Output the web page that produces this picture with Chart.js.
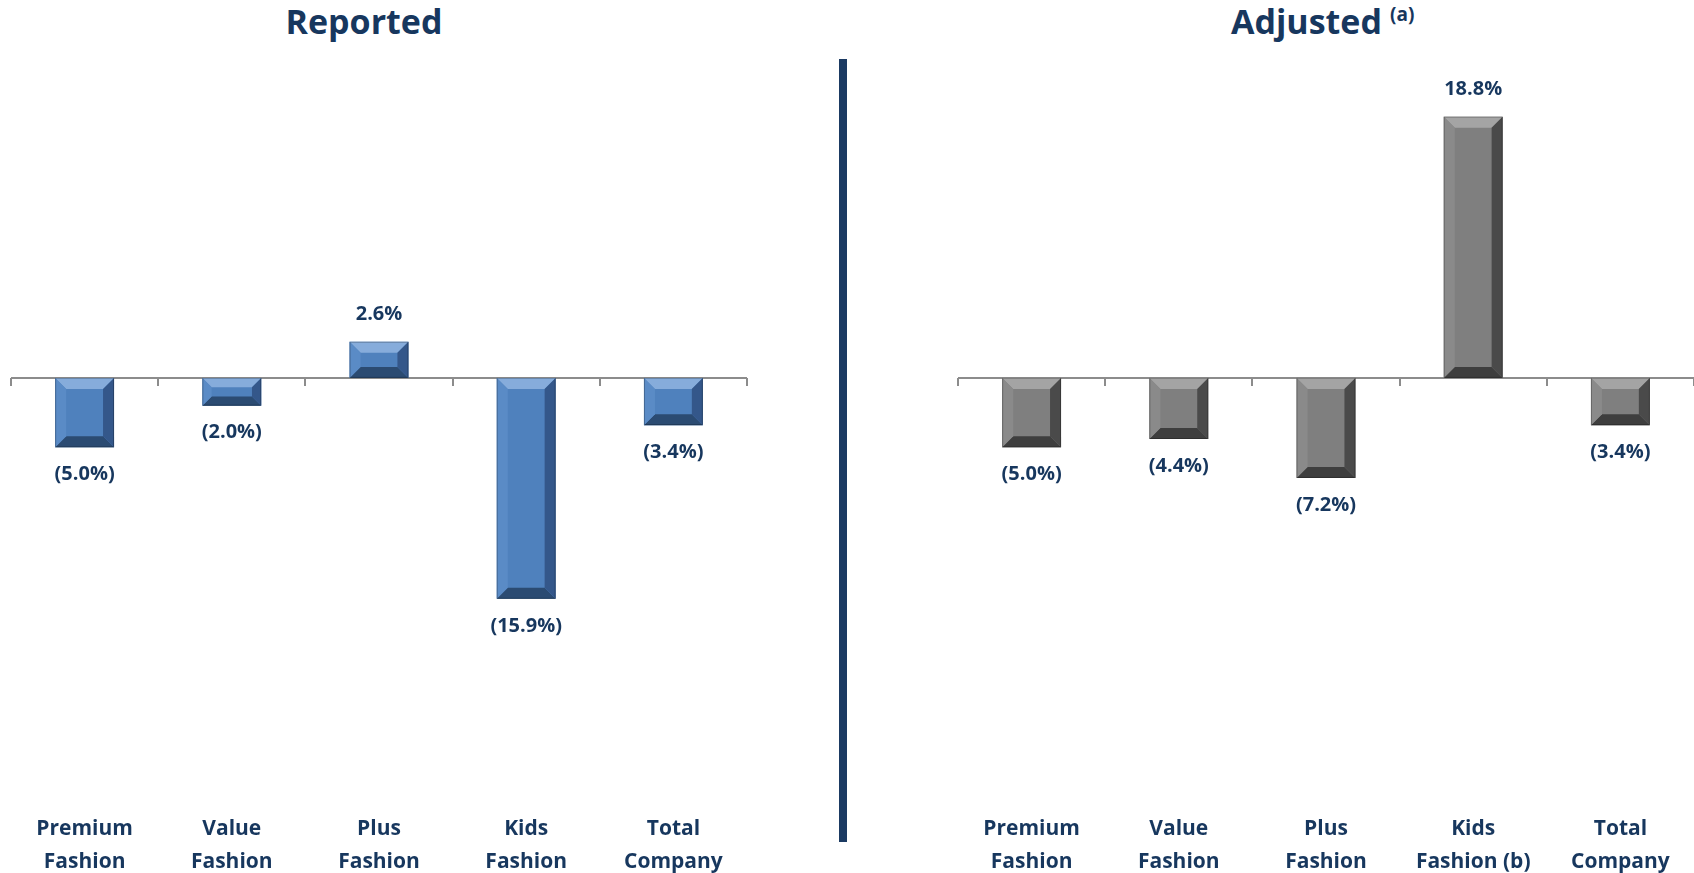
<!DOCTYPE html>
<html>
<head>
<meta charset="utf-8">
<script src="https://cdn.jsdelivr.net/npm/chart.js@4.4.1/dist/chart.umd.min.js"></script>
<style>
  body { margin: 0; background: #fff; overflow: hidden; }
  #page { position: relative; width: 1694px; height: 873px; overflow: hidden; font-family: "Open Sans", Lato, sans-serif; }
  .title { position: absolute; top: 4px; font-size: 34px; line-height: 34px; font-weight: bold; color: #17375E; white-space: nowrap; }
  .sup { position: absolute; top: 5px; font-size: 19px; line-height: 19px; font-weight: bold; color: #17375E; }
  #divider { position: absolute; left: 839px; top: 59px; width: 8px; height: 783px; background: #1B3A62; }
  .box { position: absolute; top: 0; }
</style>
</head>
<body>
<div id="page">
  <div class="title" style="left:0; width:728px; text-align:center;">Reported</div>
  <div class="title" style="left:1231px;">Adjusted</div>
  <div class="sup" style="left:1390px;">(a)</div>
  <div id="divider"></div>
  <div class="box" style="left:0;"><canvas id="reported" width="770" height="888"></canvas></div>
  <div class="box" style="left:850px;"><canvas id="adjusted" width="844" height="888"></canvas></div>
</div>
<script>
const reportedLabels = [['Premium', 'Fashion'], ['Value', 'Fashion'], ['Plus', 'Fashion'], ['Kids', 'Fashion'], ['Total', 'Company']]
const adjustedLabels = [['Premium', 'Fashion'], ['Value', 'Fashion'], ['Plus', 'Fashion'], ['Kids', 'Fashion (b)'], ['Total', 'Company']]
const reportedValues = [-5.0, -2.0, 2.6, -15.9, -3.4]
const adjustedValues = [-5.0, -4.4, -7.2, 18.8, -3.4]

const navy = '#17375E'

const blueBar = { main: '#4F81BD', top: '#86ACDB', bottom: '#2B4B72', left: '#5A8BC6', right: '#34578A' }
const grayBar = { main: '#7F7F7F', top: '#A4A4A4', bottom: '#3E3E3E', left: '#8A8A8A', right: '#4A4A4A' }

// zero line with little tick marks between categories
const zeroAxis = {
    id: 'zeroAxis',
    beforeDatasetsDraw(chart) {
        const ctx = chart.ctx
        const x = chart.scales.x
        const y0 = chart.scales.y.getPixelForValue(0)
        ctx.save()
        ctx.strokeStyle = '#8C8C8C'
        ctx.lineWidth = 2
        ctx.beginPath()
        ctx.moveTo(x.left, y0)
        ctx.lineTo(x.right, y0)
        for (let i = 0; i <= chart.data.labels.length; i++) {
            const px = Math.round(x.getPixelForValue(i - 0.5))
            ctx.moveTo(px, y0)
            ctx.lineTo(px, y0 + 8)
        }
        ctx.stroke()
        ctx.restore()
    }
}

// bevel look on the bars + value labels
const bevelAndLabels = {
    id: 'bevelAndLabels',
    afterDatasetsDraw(chart, args, opts) {
        const ctx = chart.ctx
        const c = opts.colors
        const values = chart.data.datasets[0].data
        chart.getDatasetMeta(0).data.forEach((bar, i) => {
            const x0 = bar.x - bar.width / 2
            const x1 = bar.x + bar.width / 2
            const yt = Math.min(bar.y, bar.base)
            const yb = Math.max(bar.y, bar.base)
            const b = Math.min(11, (yb - yt) / 3, bar.width / 4)
            ctx.save()
            const poly = (pts, col) => {
                ctx.fillStyle = col
                ctx.beginPath()
                ctx.moveTo(pts[0][0], pts[0][1])
                pts.slice(1).forEach(p => ctx.lineTo(p[0], p[1]))
                ctx.closePath()
                ctx.fill()
            }
            poly([[x0, yt], [x1, yt], [x1 - b, yt + b], [x0 + b, yt + b]], c.top)
            poly([[x0, yb], [x1, yb], [x1 - b, yb - b], [x0 + b, yb - b]], c.bottom)
            poly([[x0, yt], [x0 + b, yt + b], [x0 + b, yb - b], [x0, yb]], c.left)
            poly([[x1, yt], [x1 - b, yt + b], [x1 - b, yb - b], [x1, yb]], c.right)
            ctx.strokeStyle = 'rgba(0,0,0,0.25)'
            ctx.lineWidth = 1
            ctx.strokeRect(x0 + 0.5, yt + 0.5, bar.width - 1, yb - yt - 1)

            const v = values[i]
            const txt = v < 0 ? '(' + Math.abs(v).toFixed(1) + '%)' : v.toFixed(1) + '%'
            ctx.fillStyle = navy
            ctx.font = 'bold 20px "Open Sans"'
            ctx.textAlign = 'center'
            ctx.textBaseline = 'middle'
            ctx.fillText(txt, bar.x, v < 0 ? bar.y + 27 : bar.y - 27)
            ctx.restore()
        })
    }
}

function makeChart(id, labels, values, colors, padLeft, padRight) {
    const ctx = document.getElementById(id).getContext('2d')
    return new Chart(ctx, {
        type: 'bar',
        data: {
            labels: labels,
            datasets: [
                {
                    data: values,
                    backgroundColor: colors.main,
                    borderWidth: 0,
                    barPercentage: 0.4,
                    categoryPercentage: 1
                }
            ]
        },
        plugins: [zeroAxis, bevelAndLabels],
        options: {
            responsive: false,
            animation: false,
            layout: {
                padding: { top: 100, bottom: 6, left: padLeft, right: padRight }
            },
            plugins: {
                legend: { display: false },
                tooltip: { enabled: false },
                bevelAndLabels: { colors: colors }
            },
            scales: {
                x: {
                    grid: { display: false, drawTicks: false },
                    border: { display: false },
                    ticks: {
                        color: navy,
                        padding: 3,
                        maxRotation: 0,
                        autoSkip: false,
                        font: { family: '"Open Sans"', size: 21, weight: 'bold', lineHeight: '33px' }
                    }
                },
                y: {
                    display: false,
                    min: -31.1,
                    max: 20
                }
            }
        }
    })
}

makeChart('reported', reportedLabels, reportedValues, blueBar, 11, 23)
makeChart('adjusted', adjustedLabels, adjustedValues, grayBar, 108, 0)
</script>
</body>
</html>
